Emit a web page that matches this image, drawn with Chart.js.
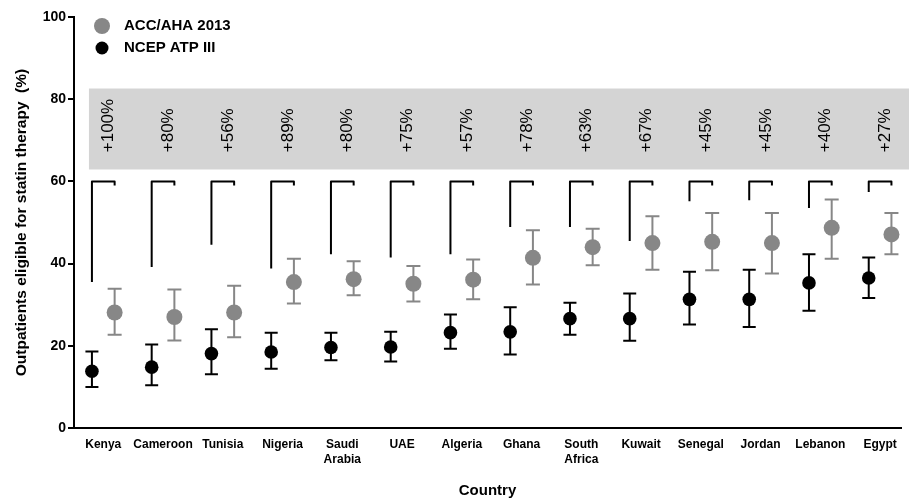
<!DOCTYPE html>
<html>
<head>
<meta charset="utf-8">
<script src="https://cdn.jsdelivr.net/npm/chart.js@4.4.0/dist/chart.umd.min.js"></script>
<style>
  body { margin: 0; background: #fff; }
</style>
</head>
<body>
<canvas id="myChart" width="909" height="501"></canvas>
<script>
const countries = ["Kenya", "Cameroon", "Tunisia", "Nigeria", ["Saudi", "Arabia"], "UAE", "Algeria",
  "Ghana", ["South", "Africa"], "Kuwait", "Senegal", "Jordan", "Lebanon", "Egypt"]

// NCEP ATP III: estimate with 95% CI
const ncep = [13.8, 14.8, 18.1, 18.5, 19.6, 19.7, 23.2, 23.4, 26.6, 26.6, 31.3, 31.3, 35.3, 36.5]
const ncepLow = [10.0, 10.4, 13.1, 14.4, 16.5, 16.2, 19.3, 17.9, 22.7, 21.2, 25.2, 24.6, 28.5, 31.6]
const ncepHigh = [18.6, 20.3, 24.0, 23.2, 23.2, 23.4, 27.6, 29.4, 30.5, 32.7, 38.0, 38.5, 42.3, 41.5]

// ACC/AHA 2013: estimate with 95% CI
const acc = [28.1, 27.0, 28.1, 35.5, 36.2, 35.1, 36.1, 41.4, 44.0, 45.0, 45.3, 45.0, 48.7, 47.1]
const accLow = [22.7, 21.3, 22.1, 30.3, 32.3, 30.8, 31.3, 34.9, 39.6, 38.5, 38.4, 37.6, 41.2, 42.3]
const accHigh = [33.9, 33.7, 34.6, 41.2, 40.6, 39.4, 41.0, 48.1, 48.5, 51.5, 52.3, 52.3, 55.6, 52.3]

// relative increase and where each bracket's left leg stops
const increase = [100, 80, 56, 89, 80, 75, 57, 78, 63, 67, 45, 45, 40, 27]
const bracketFoot = [35.5, 39.2, 44.6, 38.8, 42.3, 41.5, 42.3, 48.9, 48.9, 45.5, 55.2, 55.4, 53.5, 57.4]

const yTicks = [0, 20, 40, 60, 80, 100]

const GREY = "#878787"
const shift = 0.19

function pts(vals, dx) {
  return vals.map((v, i) => ({ x: i + dx, y: v }))
}

const extras = {
  id: "extras",
  beforeDatasetsDraw(chart) {
    const ctx = chart.ctx
    const x = chart.scales.x
    const y = chart.scales.y

    // shaded band behind the percentage labels
    ctx.save()
    ctx.fillStyle = "#d4d4d4"
    let bx = x.getPixelForValue(-0.24)
    ctx.fillRect(bx, y.getPixelForValue(82.6), chart.width - bx, y.getPixelForValue(62.9) - y.getPixelForValue(82.6))

    ctx.fillStyle = "#000"
    ctx.font = "17px 'Liberation Sans', Arial"
    ctx.textAlign = "left"
    ctx.textBaseline = "middle"
    increase.forEach((p, i) => {
      ctx.save()
      ctx.translate(x.getPixelForValue(i + 0.09), y.getPixelForValue(67.1))
      ctx.rotate(-Math.PI / 2)
      ctx.fillText("+" + p + "%", 0, 0)
      ctx.restore()
    })

    // brackets
    ctx.strokeStyle = "#000"
    ctx.lineWidth = 2
    ctx.lineJoin = "round"
    bracketFoot.forEach((f, i) => {
      let x1 = x.getPixelForValue(i - shift)
      let x2 = x.getPixelForValue(i + shift)
      ctx.beginPath()
      ctx.moveTo(x1, y.getPixelForValue(f))
      ctx.lineTo(x1, y.getPixelForValue(60))
      ctx.lineTo(x2, y.getPixelForValue(60))
      ctx.lineTo(x2, y.getPixelForValue(59))
      ctx.stroke()
    })

    // error bars
    function bars(lo, hi, dx, color, cap) {
      ctx.strokeStyle = color
      ctx.lineWidth = 2
      lo.forEach((l, i) => {
        let px = x.getPixelForValue(i + dx)
        let top = y.getPixelForValue(hi[i])
        let bot = y.getPixelForValue(l)
        ctx.beginPath()
        ctx.moveTo(px, top)
        ctx.lineTo(px, bot)
        ctx.moveTo(px - cap, top)
        ctx.lineTo(px + cap, top)
        ctx.moveTo(px - cap, bot)
        ctx.lineTo(px + cap, bot)
        ctx.stroke()
      })
    }
    bars(ncepLow, ncepHigh, -shift, "#000", 6.5)
    bars(accLow, accHigh, shift, GREY, 7)
    ctx.restore()
  },
  afterDraw(chart) {
    const ctx = chart.ctx
    ctx.save()
    ctx.font = "bold 15px 'Liberation Sans', Arial"
    ctx.textBaseline = "middle"
    ctx.textAlign = "left"
    ctx.fillStyle = GREY
    ctx.beginPath()
    ctx.arc(102, 26, 8, 0, Math.PI * 2)
    ctx.fill()
    ctx.fillStyle = "#000"
    ctx.beginPath()
    ctx.arc(102, 48, 6.5, 0, Math.PI * 2)
    ctx.fill()
    ctx.fillText("ACC/AHA 2013", 124, 26)
    ctx.fillText("NCEP ATP III", 124, 48)
    ctx.restore()
  }
}

const ctx = document.getElementById("myChart")

new Chart(ctx, {
  type: "scatter",
  data: {
    datasets: [{
      label: "ACC/AHA 2013",
      data: pts(acc, shift),
      backgroundColor: GREY,
      borderWidth: 0,
      pointRadius: 8,
      pointHoverRadius: 8
    }, {
      label: "NCEP ATP III",
      data: pts(ncep, -shift),
      backgroundColor: "#000",
      borderWidth: 0,
      pointRadius: 6.8,
      pointHoverRadius: 6.8
    }]
  },
  options: {
    responsive: false,
    animation: false,
    layout: { padding: { top: 17, right: 3, left: 0, bottom: 0 } },
    plugins: {
      legend: { display: false },
      tooltip: { enabled: false }
    },
    scales: {
      x: {
        type: "linear",
        min: -0.49,
        max: 13.35,
        afterBuildTicks: (s) => { s.ticks = countries.map((c, i) => ({ value: i })) },
        afterFit: (s) => { s.height = 73 },
        grid: { display: false, drawTicks: false },
        border: { display: true, color: "#000", width: 2 },
        ticks: {
          autoSkip: false,
          maxRotation: 0,
          padding: 9,
          color: "#000",
          font: { family: "'Liberation Sans', Arial", size: 12, weight: "bold", lineHeight: 1.25 },
          callback: (v) => countries[v]
        },
        title: {
          display: true,
          text: "Country",
          color: "#000",
          font: { family: "'Liberation Sans', Arial", size: 15, weight: "bold" },
          padding: { top: 0, bottom: 1 }
        }
      },
      y: {
        min: 0,
        max: 100,
        afterBuildTicks: (s) => { s.ticks = yTicks.map(v => ({ value: v })) },
        afterFit: (s) => { s.width = 74 },
        grid: { display: true, drawOnChartArea: false, drawTicks: true, tickLength: 6, color: "#000", lineWidth: 2 },
        border: { display: true, color: "#000", width: 2 },
        ticks: {
          padding: 2,
          color: "#000",
          font: { family: "'Liberation Sans', Arial", size: 14, weight: "bold" }
        },
        title: {
          display: true,
          text: "Outpatients eligible for statin therapy  (%)",
          color: "#000",
          font: { family: "'Liberation Sans', Arial", size: 15.5, weight: "bold" },
          padding: { top: 12, bottom: 0 }
        }
      }
    }
  },
  plugins: [extras]
})
</script>
</body>
</html>
